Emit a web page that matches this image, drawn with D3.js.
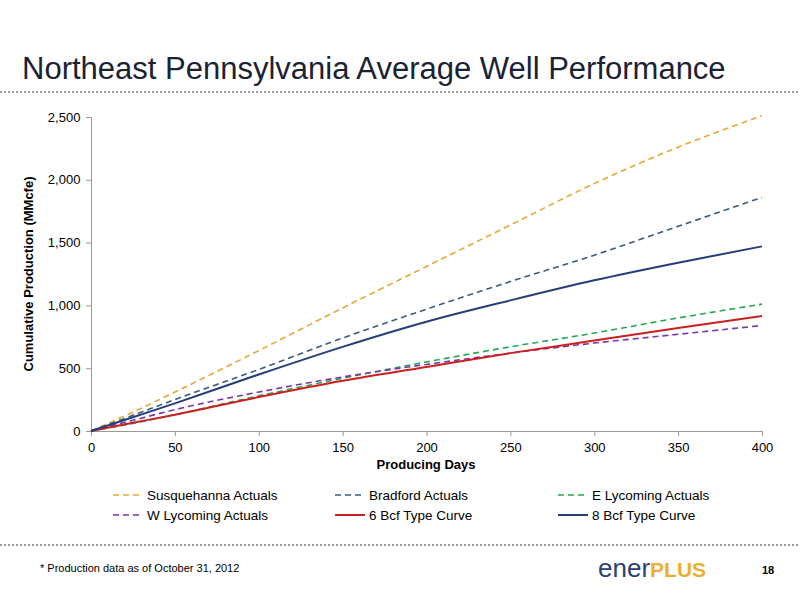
<!DOCTYPE html>
<html><head><meta charset="utf-8">
<script src="https://cdn.jsdelivr.net/npm/d3@7.9.0/dist/d3.min.js"></script>
<style>body{margin:0;background:#fff;font-family:"Liberation Sans",Arial,sans-serif}</style>
</head><body><svg width="800" height="600"></svg>
<script>
// days on the x axis
const days = [0, 25, 50, 100, 150, 200, 250, 300, 350, 400];
const susquehanna = [0, 150, 310, 640, 980, 1310, 1640, 1970, 2260, 2510];
const bradford = [0, 125, 250, 490, 740, 970, 1190, 1400, 1630, 1860];
const eLycoming = [0, 60, 130, 280, 420, 550, 670, 780, 900, 1010];
const wLycoming = [0, 85, 170, 310, 430, 530, 620, 700, 770, 840];
const type6 = [0, 65, 130, 270, 400, 510, 620, 720, 820, 915];
const type8 = [0, 110, 220, 450, 670, 870, 1040, 1200, 1340, 1470];
const xTicks = [0, 50, 100, 150, 200, 250, 300, 350, 400];
const yTicks = [0, 500, 1000, 1500, 2000, 2500];

const series = [
  {name: 'Susquehanna Actuals', vals: susquehanna, color: '#e8a735', dash: '6,4', w: 1.6},
  {name: 'Bradford Actuals', vals: bradford, color: '#3b5c7e', dash: '6,4', w: 1.6},
  {name: 'E Lycoming Actuals', vals: eLycoming, color: '#23a84e', dash: '6,4', w: 1.6},
  {name: 'W Lycoming Actuals', vals: wLycoming, color: '#7b35a6', dash: '6,4', w: 1.6},
  {name: '6 Bcf Type Curve', vals: type6, color: '#cc1f1f', dash: null, w: 2},
  {name: '8 Bcf Type Curve', vals: type8, color: '#233f7a', dash: null, w: 2},
];

const svg = d3.select('svg');

// title and separators
svg.append('text').attr('x', 22).attr('y', 79).attr('font-size', 31).attr('fill', '#1a2233')
  .text('Northeast Pennsylvania Average Well Performance');
[92, 545].forEach(y => svg.append('line').attr('x1', 0).attr('x2', 800).attr('y1', y).attr('y2', y)
  .attr('stroke', '#999').attr('stroke-width', 2).attr('stroke-dasharray', '2,2'));

const x = d3.scaleLinear().domain([0, 400]).range([91, 762]);
const y = d3.scaleLinear().domain([0, 2500]).range([431, 117]);

const gx = svg.append('g').attr('transform', 'translate(0,431)')
  .call(d3.axisBottom(x).tickValues(xTicks).tickSize(5).tickSizeOuter(0));
const gy = svg.append('g').attr('transform', 'translate(91,0)')
  .call(d3.axisLeft(y).tickValues(yTicks).tickFormat(d3.format(',')).tickSize(5).tickSizeOuter(0));
[gx, gy].forEach(g => {
  g.selectAll('path,line').attr('stroke', '#999');
  g.selectAll('text').attr('font-size', 13).attr('fill', '#000').attr('font-family', 'Liberation Sans, Arial');
});
gx.selectAll('text').attr('dy', '1em');
gy.selectAll('text').attr('dx', '-0.2em');

svg.append('text').attr('x', 426).attr('y', 469).attr('text-anchor', 'middle')
  .attr('font-size', 13).attr('font-weight', 'bold').text('Producing Days');
svg.append('text').attr('transform', 'translate(33,274) rotate(-90)').attr('text-anchor', 'middle')
  .attr('font-size', 13).attr('font-weight', 'bold').text('Cumulative Production (MMcfe)');

const line = d3.line().x((d, i) => x(days[i])).y(d => y(d)).curve(d3.curveMonotoneX);
series.forEach(s => svg.append('path').attr('d', line(s.vals)).attr('fill', 'none')
  .attr('stroke', s.color).attr('stroke-width', s.w).attr('stroke-dasharray', s.dash));

// legend
const lx = [113, 335, 558], ly = [495, 515];
series.forEach((s, i) => {
  const g = svg.append('g').attr('transform', `translate(${lx[i % 3]},${ly[Math.floor(i / 3)]})`);
  g.append('line').attr('x1', 0).attr('x2', 30).attr('stroke', s.color).attr('stroke-width', s.w)
    .attr('stroke-dasharray', s.dash);
  g.append('text').attr('x', 34).attr('y', 5).attr('font-size', 13.5).text(s.name);
});

// footer
svg.append('text').attr('x', 40).attr('y', 572).attr('font-size', 11).text('* Production data as of October 31, 2012');
const logo = svg.append('text').attr('x', 598).attr('y', 577);
logo.append('tspan').attr('font-size', 26).attr('fill', '#2b3f73').text('ener');
logo.append('tspan').attr('font-size', 21).attr('font-weight', 'bold').attr('fill', '#e8b030').text('PLUS');
svg.append('text').attr('x', 762).attr('y', 574).attr('font-size', 11).attr('font-weight', 'bold').text('18');
</script></body></html>
